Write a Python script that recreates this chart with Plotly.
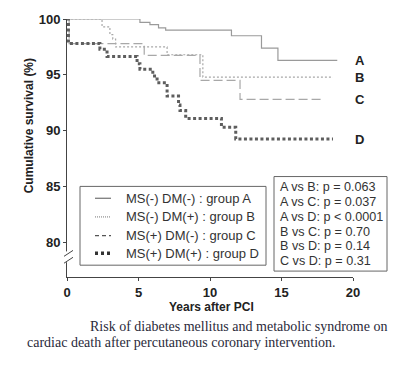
import plotly.graph_objects as go

# ---- data ----
years_A = [0, 5.1, 5.8, 6.4, 6.9, 11.5, 13.6, 14.75, 18.9]
surv_A = [100, 99.7, 99.5, 99.2, 99.0, 98.5, 97.4, 96.3, 96.3]

years_B = [0, 2.45, 3.0, 3.2, 3.4, 7.0, 9.5, 18.6]
surv_B = [100, 99.3, 98.6, 98.2, 97.5, 96.8, 94.8, 94.8]

years_C = [0, 0.15, 5.4, 9.3, 12.1, 17.8]
surv_C = [100, 97.8, 96.75, 94.5, 92.8, 92.8]

years_D = [0, 0.1, 2.3, 2.8, 4.9, 5.1, 6.0, 6.3, 7.0, 7.8, 7.9, 8.3, 10.8, 11.8, 18.6]
surv_D = [100, 97.8, 97.3, 96.65, 96.0, 95.5, 94.9, 94.3, 93.1, 92.3, 91.8, 91.1, 90.3, 89.25, 89.25]

group_names = ["MS(-) DM(-) : group A", "MS(-) DM(+) : group B",
               "MS(+) DM(-) : group C", "MS(+) DM(+) : group D"]
end_labels = ["A", "B", "C", "D"]
pvalue_lines = ["A vs B: p = 0.063", "A vs C: p = 0.037", "A vs D: p < 0.0001",
                "B vs C: p = 0.70", "B vs D: p = 0.14", "C vs D: p = 0.31"]
x_ticks = [0, 5, 10, 15, 20]
y_ticks = [80, 85, 90, 95, 100]
caption_1 = "Risk of diabetes mellitus and metabolic syndrome on"
caption_2 = "cardiac death after percutaneous coronary intervention."

# ---- layout geometry (pixels) ----
W, H = 403, 365
L, R, T, B = 67, 50, 15, 88
PW, PH = W - L - R, H - T - B


def xp(px):
    return (px - L) / PW


def yp(py):
    return (H - B - py) / PH


series = [(years_A, surv_A), (years_B, surv_B), (years_C, surv_C), (years_D, surv_D)]
styles = [
    dict(color="#9a9a9a", width=1.2, dash="solid"),
    dict(color="#a8a8a8", width=1.2, dash="2px,2px"),
    dict(color="#a8a8a8", width=1.2, dash="9px,4px"),
    dict(color="#5e5e5e", width=3, dash="3px,2.5px"),
]

fig = go.Figure()
for (xs, ys), name, st in zip(series, group_names, styles):
    fig.add_trace(go.Scatter(x=xs, y=ys, mode="lines", name=name, showlegend=False,
                             line=dict(shape="hv", **st), cliponaxis=False))

FONT = "Liberation Sans, Arial, sans-serif"

# end labels (just right of the plot)
for (xs, ys), lab in zip(series, end_labels):
    fig.add_annotation(xref="paper", yref="y", x=xp(360), y=ys[-1], text=f"<b>{lab}</b>",
                       showarrow=False, xanchor="center", yanchor="middle",
                       font=dict(family=FONT, size=13, color="#222"))

# legend box (drawn by hand to match the reference layout)
fig.add_shape(type="rect", xref="paper", yref="paper", x0=xp(80), x1=xp(266),
              y0=yp(265), y1=yp(185), line=dict(color="#666", width=1),
              fillcolor="white", layer="above")
legend_rows = [197, 216, 235, 253]
legend_samples = [
    dict(color="#555", width=1, dash="solid"),
    dict(color="#777", width=1, dash="1px,1px"),
    dict(color="#555", width=1.2, dash="4px,3px"),
    dict(color="#333", width=3.5, dash="3px,3px"),
]
for row, name, st in zip(legend_rows, group_names, legend_samples):
    fig.add_shape(type="line", xref="paper", yref="paper", x0=xp(95), x1=xp(111),
                  y0=yp(row), y1=yp(row), line=st, layer="above")
    fig.add_annotation(xref="paper", yref="paper", x=xp(124), y=yp(row), text=name,
                       showarrow=False, xanchor="left", yanchor="middle",
                       font=dict(family=FONT, size=13, color="#333"))

# p-value box
fig.add_shape(type="rect", xref="paper", yref="paper", x0=xp(274), x1=xp(387),
              y0=yp(271), y1=yp(175), line=dict(color="#666", width=1),
              fillcolor="white", layer="above")
for i, line in enumerate(pvalue_lines):
    fig.add_annotation(xref="paper", yref="paper", x=xp(278), y=yp(186 + 15 * i), text=line,
                       showarrow=False, xanchor="left", yanchor="middle",
                       font=dict(family=FONT, size=12.6, color="#333"))

# axis titles
fig.add_annotation(xref="paper", yref="paper", x=xp(211), y=yp(307), text="<b>Years after PCI</b>",
                   showarrow=False, xanchor="center", yanchor="middle",
                   font=dict(family=FONT, size=12, color="#222"))
fig.add_annotation(xref="paper", yref="paper", x=xp(29), y=yp(124),
                   text="<b>Cumulative survival (%)</b>", textangle=-90,
                   showarrow=False, xanchor="center", yanchor="middle",
                   font=dict(family=FONT, size=12, color="#222"))

# caption
SERIF = "Liberation Serif, Times New Roman, serif"
fig.add_annotation(xref="paper", yref="paper", x=xp(88), y=yp(327), xanchor="left", yanchor="middle",
                   text=caption_1, showarrow=False,
                   font=dict(family=SERIF, size=14, color="#2a2a3a"))
fig.add_annotation(xref="paper", yref="paper", x=xp(25), y=yp(344), xanchor="left", yanchor="middle",
                   text=caption_2, showarrow=False,
                   font=dict(family=SERIF, size=14, color="#2a2a3a"))

# axis break on the y axis
fig.add_shape(type="rect", xref="paper", yref="paper", x0=xp(63), x1=xp(71), y0=yp(262), y1=yp(251),
              fillcolor="white", line=dict(width=0), layer="above")
fig.add_shape(type="line", xref="paper", yref="paper", x0=xp(64), y0=yp(256), x1=xp(73), y1=yp(250),
              line=dict(color="#444", width=1), layer="above")
fig.add_shape(type="line", xref="paper", yref="paper", x0=xp(64), y0=yp(263), x1=xp(73), y1=yp(257),
              line=dict(color="#444", width=1), layer="above")

fig.update_layout(
    width=W, height=H,
    margin=dict(l=L, r=R, t=T, b=B),
    paper_bgcolor="white", plot_bgcolor="white",
    showlegend=False,
    font=dict(family=FONT),
)
fig.update_xaxes(range=[0, 20], tickvals=x_ticks, showgrid=False, zeroline=False,
                 showline=True, linecolor="#444", linewidth=1, ticks="outside",
                 ticklen=3, tickcolor="#444",
                 tickfont=dict(family=FONT, size=13, color="#222", weight="bold"))
fig.update_yaxes(range=[76.9, 100], tickvals=y_ticks, showgrid=False, zeroline=False,
                 showline=True, linecolor="#444", linewidth=1, ticks="outside",
                 ticklen=3, tickcolor="#444",
                 tickfont=dict(family=FONT, size=13, color="#222", weight="bold"))

fig.write_html("out.html", config={"displayModeBar": False},
               post_script="document.body.style.margin='0';")
